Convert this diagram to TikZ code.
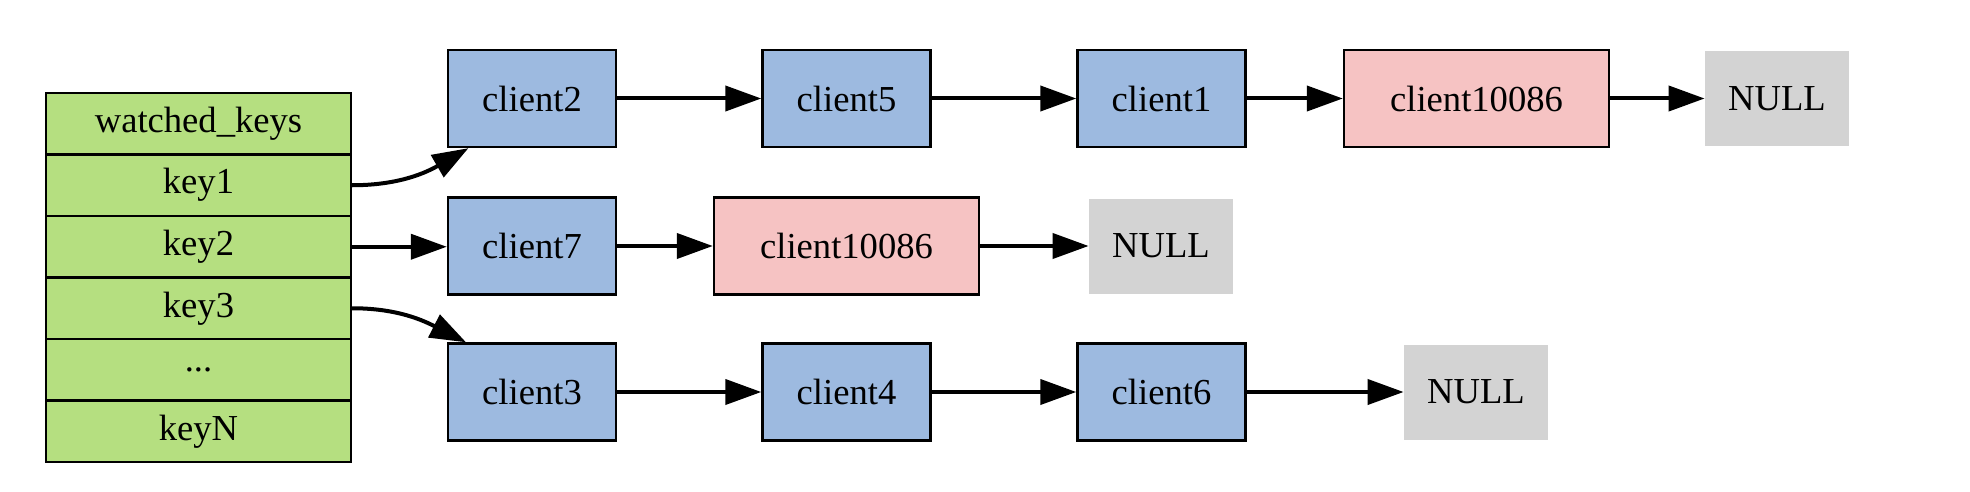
\documentclass[tikz,border=0pt]{standalone}
\usepackage{fontspec}
\setmainfont{Liberation Serif}
\usetikzlibrary{arrows.meta}
\definecolor{keygreen}{RGB}{181,223,128}
\definecolor{clblue}{RGB}{157,186,224}
\definecolor{clpink}{RGB}{246,195,195}
\definecolor{nullgray}{RGB}{211,211,211}
\begin{document}
\begin{tikzpicture}[x=0.5pt,y=-0.5pt,
  lbl/.style={inner sep=0pt,font=\fontsize{18.3}{20}\selectfont},
  kbox/.style={lbl,draw,line width=1.2pt,fill=keygreen,minimum width=152.5pt,minimum height=30.75pt},
  cl/.style={lbl,draw,line width=1.2pt,fill=clblue,minimum width=84pt,minimum height=48.5pt},
  wcl/.style={cl,fill=clpink,minimum width=132.5pt},
  nul/.style={lbl,fill=nullgray,minimum width=72pt,minimum height=47.5pt},
  arr/.style={-{Triangle[length=18pt,width=12.5pt]},line width=2pt}]
\useasboundingbox (0,0) rectangle (1970,492);
\node[kbox] (wk) at (198.5,123.75) {watched\_keys}; \node[kbox] (key1) at (198.5,185.25) {key1};
\node[kbox] (key2) at (198.5,246.75) {key2}; \node[kbox] (key3) at (198.5,308.25) {key3};
\node[kbox] (dots) at (198.5,369.75) {...}; \node[kbox] (keyN) at (198.5,431.25) {keyN};
\node[cl] (c2) at (532,98.5) {client2}; \node[cl] (c5) at (846.5,98.5) {client5}; \node[cl] (c1) at (1161.5,98.5) {client1};
\node[wcl] (c10086a) at (1476.5,98.5) {client10086}; \node[nul] (n1) at (1777,98.5) {NULL};
\node[cl] (c7) at (532,246) {client7}; \node[wcl] (c10086b) at (846.5,246) {client10086}; \node[nul] (n2) at (1161,246) {NULL};
\node[cl] (c3) at (532,392) {client3}; \node[cl] (c4) at (846.5,392) {client4}; \node[cl] (c6) at (1161.5,392) {client6};
\node[nul] (n3) at (1476,392) {NULL};
\draw[arr] (key1.east) to[out=0,in=210] (c2.218); \draw[arr] (key2.east) -- (key2.east -| c7.west); \draw[arr] (key3.east) to[out=0,in=153] (c3.143);
\draw[arr] (c2) -- (c5); \draw[arr] (c5) -- (c1); \draw[arr] (c1) -- (c10086a); \draw[arr] (c10086a) -- (n1);
\draw[arr] (c7) -- (c10086b); \draw[arr] (c10086b) -- (n2);
\draw[arr] (c3) -- (c4); \draw[arr] (c4) -- (c6); \draw[arr] (c6) -- (n3);
\end{tikzpicture}
\end{document}
